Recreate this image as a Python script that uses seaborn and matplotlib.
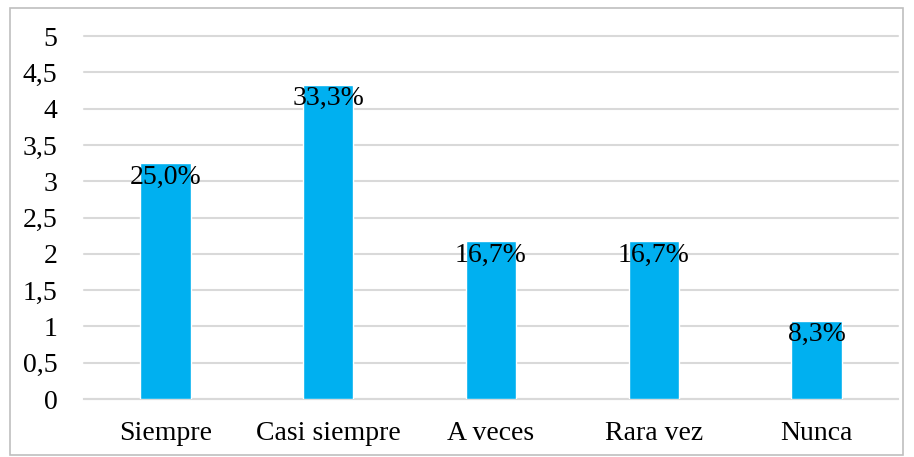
import matplotlib
matplotlib.use("Agg")
import matplotlib.pyplot as plt
import seaborn as sns
import pandas as pd
from matplotlib.patches import Rectangle

categories = ["Siempre", "Casi siempre", "A veces", "Rara vez", "Nunca"]
values = [3.25, 4.33, 2.17, 2.17, 1.08]
labels = ["25,0%", "33,3%", "16,7%", "16,7%", "8,3%"]
yticks = [0, 0.5, 1, 1.5, 2, 2.5, 3, 3.5, 4, 4.5, 5]
ytick_labels = ["0", "0,5", "1", "1,5", "2", "2,5", "3", "3,5", "4", "4,5", "5"]

sns.set_theme(style="white")
plt.rcParams["font.family"] = ["Liberation Serif", "DejaVu Serif"]

df = pd.DataFrame({"cat": categories, "val": values})

fig = plt.figure(figsize=(9.14, 4.57), dpi=100)
ax = fig.add_axes([0.0919, 0.1269, 0.8906, 0.7943])

sns.barplot(data=df, x="cat", y="val", color="#00B0F0", saturation=1,
            width=0.31, ax=ax, zorder=3)

ax.set_ylim(0, 5)
ax.set_xlim(-0.5, 4.5)
ax.set_yticks(yticks)
ax.set_yticklabels(ytick_labels)
ax.yaxis.grid(True, color="#d9d9d9", linewidth=1.5, zorder=0)
for gl in ax.get_ygridlines():
    gl.set_clip_on(False)
ax.set_axisbelow(True)
for s in ["top", "right", "left"]:
    ax.spines[s].set_visible(False)
ax.spines["bottom"].set_color("#d9d9d9")
ax.spines["bottom"].set_linewidth(1.5)
ax.set_xlabel("")
ax.set_ylabel("")
ax.tick_params(axis="y", length=0, pad=19, labelsize=20, colors="black")
ax.tick_params(axis="x", length=0, pad=16, labelsize=20, colors="black")

for i, (v, lab) in enumerate(zip(values, labels)):
    ax.annotate(lab, xy=(i, v), xytext=(0, -1), textcoords="offset points",
                ha="center", va="top", fontsize=20, color="black", zorder=5)

fig.patches.append(Rectangle((10 / 914, 1 - 455 / 457), 893 / 914, 447 / 457,
                             transform=fig.transFigure, fill=False,
                             edgecolor="#bfbfbf", linewidth=1.2))

fig.savefig("out.png", dpi=100)
